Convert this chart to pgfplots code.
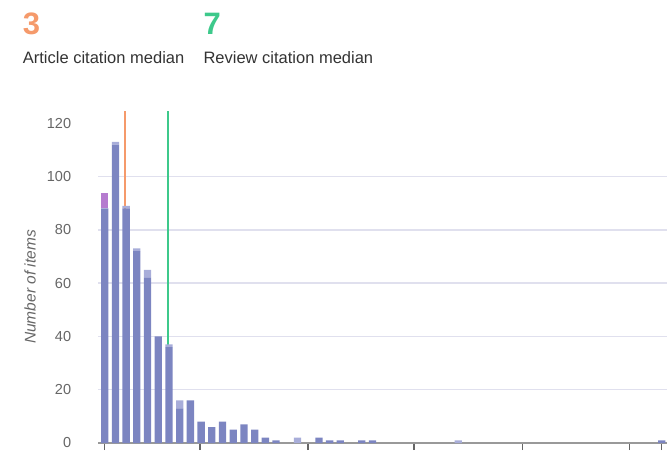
\documentclass[border=0pt]{standalone}
\usepackage{fontspec}
\setmainfont{Liberation Sans}
\usepackage{pgfplots}
\usepackage{pgfplotstable}
\pgfplotsset{compat=1.18}

\definecolor{artblue}{HTML}{7C85C1}
\definecolor{revblue}{HTML}{A8ADD9}
\definecolor{othpurple}{HTML}{B57BCF}
\definecolor{medorange}{HTML}{F59A6B}
\definecolor{medgreen}{HTML}{3DC98B}
\definecolor{gridc}{HTML}{E0E0EE}
\definecolor{labgray}{HTML}{666666}
\definecolor{txtgray}{HTML}{333333}

% citations per item: articles, reviews, other
\pgfplotstableread{
x  art rev oth
0   88  0  6
1  112  1  0
2   88  1  0
3   72  1  0
4   62  3  0
5   40  0  0
6   36  1  0
7   13  3  0
8   16  0  0
9    8  0  0
10   6  0  0
11   8  0  0
12   5  0  0
13   7  0  0
14   5  0  0
15   2  0  0
16   1  0  0
17   0  0  0
18   0  2  0
19   0  0  0
20   2  0  0
21   1  0  0
22   1  0  0
23   0  0  0
24   1  0  0
25   1  0  0
33   0  1  0
52   1  0  0
}\citedata

\begin{document}
\begin{tikzpicture}
\useasboundingbox (0,0) rectangle (672pt,451pt);

\node[anchor=base west, inner sep=0pt, text=medorange, font=\fontsize{31}{31}\selectfont\bfseries] at (22.7pt,416pt) {3};
\node[anchor=base west, inner sep=0pt, text=medgreen, font=\fontsize{31}{31}\selectfont\bfseries] at (203.3pt,416pt) {7};
\node[anchor=base west, inner sep=0pt, text=txtgray, font=\fontsize{16.5}{18}\selectfont] at (22.7pt,387.7pt) {Article citation median};
\node[anchor=base west, inner sep=0pt, text=txtgray, font=\fontsize{16.5}{18}\selectfont] at (203.3pt,387.7pt) {Review citation median};
\node[rotate=90, inner sep=0pt, text=labgray, font=\fontsize{15.5}{17}\selectfont\itshape] at (30pt,164pt) {Number of items};

\begin{axis}[
    at={(98pt,8pt)}, anchor=south west,
    scale only axis,
    width=569pt, height=333.1pt,
    xmin=-0.626, xmax=52.5,
    ymin=0, ymax=125,
    ybar stacked,
    bar width=7.3pt,
    axis x line=bottom,
    axis y line=left,
    x axis line style={-, draw=gray!80, line width=1.6pt},
    y axis line style={draw=none},
    xtick={0,8.9,19,28.9,39,49,52},
    xticklabels={},
    tick align=outside,
    major tick length=7pt,
    xtick style={draw=labgray, line width=1.5pt},
    ytick={20,40,60,80,100},
    ytick style={draw=none},
    extra y ticks={0,120},
    extra y tick style={grid=none},
    ymajorgrids,
    grid style={gridc, line width=1.5pt},
    yticklabel style={anchor=east, inner sep=0pt, xshift=-19.7pt, text=labgray,
        font=\fontsize{14.5}{16}\selectfont},
    /pgf/number format/assume math mode=true,
]
\addplot[fill=artblue, draw=none] table[x=x, y=art] {\citedata};
\addplot[fill=revblue, draw=none] table[x=x, y=rev] {\citedata};
\addplot[fill=othpurple, draw=none] table[x=x, y=oth] {\citedata};
\draw[medorange, line width=2.2pt] (axis cs:1.93,0) -- (axis cs:1.93,124.6);
\draw[medgreen, line width=2.2pt] (axis cs:5.94,0) -- (axis cs:5.94,124.6);
\end{axis}
\end{tikzpicture}
\end{document}
